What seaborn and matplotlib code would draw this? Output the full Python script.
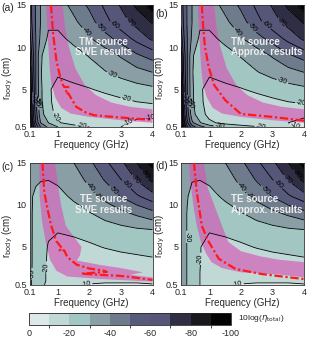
import matplotlib
matplotlib.use('Agg')
import matplotlib.pyplot as plt
import numpy as np
import pandas as pd
import seaborn as sns
from matplotlib.colors import ListedColormap, BoundaryNorm

# tabulated maps of 10log(eta_total), rows = r_body (cm), columns = frequency (GHz)
freq_ghz = [0.1, 0.2, 0.3, 0.45, 0.7, 1.0, 1.5, 2.0, 2.5, 3.0, 3.5, 4.0]
r_body_cm = [0.5, 1, 2, 3.5, 5, 7, 9, 11, 13, 15]

tm_swe_map = [
    [-100, -85, -68, -50, -38, -30, -24, -20, -15, -10, -7, -5],
    [-99, -80, -60, -40, -30, -21, -16, -13.5, -12, -10.8, -9, -7],
    [-98, -75, -55, -34, -24, -17, -14, -12.5, -12, -11.5, -11.5, -11.5],
    [-97, -72, -51, -32, -22, -16, -14, -14.5, -16, -18, -20, -21.5],
    [-95, -70, -50, -32, -21, -17.5, -18, -19.5, -22, -24.5, -26.5, -28],
    [-90, -66, -50, -31, -22, -21, -23.5, -26.5, -29.5, -33, -36.5, -40],
    [-85, -64, -50, -31, -26, -25, -27, -30.5, -35, -41, -48.5, -54],
    [-76, -60, -50, -38, -28, -28, -32, -39, -46, -54, -63, -72],
    [-68, -57, -49, -40, -32, -32, -38, -46, -57, -66, -74, -81],
    [-66, -56, -49, -40, -34, -35, -43, -52, -62, -71, -82, -96],
]

tm_approx_map = [
    [-100, -88, -72, -55, -44, -36, -28, -24, -21, -17, -12, -8.5],
    [-99, -82, -62, -42, -31, -22, -17, -14.5, -13, -11.5, -10, -8],
    [-98, -75, -55, -34, -24, -17, -14, -12.5, -12, -11.5, -11.5, -11.5],
    [-97, -72, -51, -32, -22, -16, -14, -14.5, -16, -18, -20, -21.5],
    [-95, -70, -50, -32, -21, -17.5, -18, -19.5, -22, -24.5, -26.5, -28],
    [-90, -66, -50, -31, -22, -21, -23.5, -26.5, -29.5, -33, -36.5, -40],
    [-85, -64, -50, -31, -26, -25, -27, -30.5, -35, -41, -48.5, -54],
    [-76, -60, -50, -38, -28, -28, -32, -39, -46, -54, -63, -72],
    [-68, -57, -49, -40, -32, -32, -38, -46, -57, -66, -74, -81],
    [-66, -56, -49, -40, -34, -35, -43, -52, -62, -71, -82, -96],
]

te_swe_map = [
    [-32, -29, -25, -21.5, -18.5, -15, -11.5, -9.5, -9, -9, -9, -9.5],
    [-32, -29, -25.5, -22, -19, -15.5, -12.5, -11.5, -11, -11, -11, -11.5],
    [-32, -29.5, -26, -22, -19, -16, -13.5, -12.5, -12.5, -13, -13.5, -14],
    [-32.5, -29.5, -26, -21.5, -19.5, -16.5, -14.5, -14.5, -15.5, -17, -18, -19],
    [-32.5, -29.5, -26.5, -23, -19.5, -17.5, -17, -18.5, -20.5, -22, -23, -24],
    [-33, -29.5, -27, -23.5, -21, -20.5, -22, -24, -25.5, -27, -28.5, -29.5],
    [-33, -29.5, -27, -24.5, -23.5, -24, -26.5, -29.5, -33.5, -37.5, -42, -47],
    [-34, -30, -28, -27, -26.8, -27.5, -31.5, -37, -43, -50.5, -58.5, -66],
    [-36, -33, -31.5, -30.5, -30.2, -31.5, -35.5, -42.5, -51, -60, -71, -83],
    [-37, -35, -33.5, -32.5, -32.5, -34.5, -40, -48, -58, -68, -80, -94],
]

te_approx_map = [
    [-35, -32.5, -29.5, -25, -20, -15.5, -11.5, -9.5, -9, -9, -9, -9.5],
    [-34.5, -32.5, -29.5, -25, -20, -16, -12.5, -11.5, -11, -11, -11, -11.5],
    [-34.5, -32.5, -29.5, -24.5, -20, -16.5, -13.5, -12.5, -12.5, -13, -13.5, -14],
    [-34.5, -32.5, -29.5, -24.5, -20.3, -17, -14.5, -14.5, -15.5, -17, -18, -19],
    [-34.5, -32.5, -29.5, -24.5, -20.3, -17.5, -17, -18.5, -20.5, -22, -23, -24],
    [-34.5, -32.5, -29.5, -25, -21, -20.5, -22, -24, -25.5, -27, -28.5, -29.5],
    [-34.5, -32.5, -29.5, -25.5, -23.5, -24, -26.5, -29.5, -33.5, -37.5, -42, -47],
    [-35, -33, -30.5, -27.5, -26.8, -27.5, -31.5, -37, -43, -50.5, -58.5, -66],
    [-36, -34, -32.5, -30.5, -30.2, -31.5, -35.5, -42.5, -51, -60, -71, -83],
    [-37, -35, -33.5, -32.5, -32.5, -34.5, -40, -48, -58, -68, -80, -94],
]

# magenta bands (f, r) : outer edge and inner edge
tm_band_outer = [(1.15, 15), (1.22, 12.5), (1.35, 10), (1.55, 7.5), (1.85, 5.5), (2.2, 4.3),
                 (2.7, 3.4), (3.3, 2.9), (4.0, 2.6)]
tm_band_inner = [(0.63, 15), (0.66, 12.5), (0.7, 10), (0.74, 7.5), (0.8, 5.5), (0.92, 4.0),
                 (1.1, 2.8), (1.4, 2.1), (2.0, 1.7), (3.0, 1.3), (4.0, 1.0)]
te_swe_band_outer = [(0.9, 15), (1.0, 12.5), (1.1, 10), (1.25, 7.5), (1.55, 6.0), (1.75, 5.0),
                     (1.7, 4.0), (1.6, 3.4), (2.3, 2.9), (3.0, 2.5), (3.7, 2.0), (3.3, 1.7),
                     (4.0, 1.4), (4.0, 0.9)]
te_swe_band_inner = [(0.41, 15), (0.42, 11), (0.5, 8), (0.62, 5.5), (0.75, 3.5), (0.95, 2.2),
                     (1.3, 1.5), (2.4, 1.2), (4.0, 0.9)]
te_band_outer = [(0.82, 15), (0.95, 12), (1.2, 9.5), (1.4, 7.5), (1.6, 5.6), (2.0, 4.5),
                 (2.6, 3.9), (3.2, 3.5), (4.0, 3.2)]
te_band_inner = [(0.35, 15), (0.42, 12), (0.51, 9.5), (0.6, 7.5), (0.73, 5.6), (0.9, 4.2),
                 (1.07, 3.2), (1.4, 2.5), (2.0, 2.0), (3.2, 1.75), (4.0, 1.4)]

# red optimum paths (f, r)
tm_swe_path = [(0.78, 15), (0.85, 11.5), (0.95, 8.5), (1.05, 6.8), (1.15, 5.6), (1.2, 5.25),
               (1.33, 5.25), (1.23, 4.5), (1.33, 4.5), (1.58, 2.9), (1.9, 2.2), (2.15, 1.9),
               (2.6, 1.75), (3.1, 1.6), (3.6, 1.45), (4.0, 1.35)]
tm_approx_path = [(0.76, 15), (0.8, 12.5), (0.86, 10), (0.98, 7.6), (1.15, 5.5), (1.5, 3.7),
                  (2.0, 2.05), (3.0, 1.7), (4.0, 1.25)]
te_swe_path = [(0.51, 15), (0.57, 11.5), (0.67, 9.5), (0.79, 7.5), (0.95, 5.7), (1.14, 4.8),
               (1.05, 4.6), (1.2, 4.6), (1.3, 3.8), (1.6, 2.9), (2.0, 2.45), (2.45, 2.2),
               (2.55, 2.05), (1.75, 1.85), (2.3, 1.7), (2.9, 1.6), (3.3, 1.45), (3.6, 1.3),
               (4.0, 1.1)]
te_approx_path = [(0.51, 15), (0.6, 11.5), (0.76, 7.5), (0.98, 5.6), (1.3, 3.6), (1.83, 2.4),
                  (2.65, 1.8), (4.0, 1.2)]

# where the contour labels sit
tm_swe_label_spots = [(3.8, 14.2), (3.3, 13.0), (2.8, 12.6), (2.36, 12.3), (1.9, 11.8),
                      (2.72, 6.7), (3.18, 3.9), (3.95, 1.6), (3.3, 0.55), (1.75, 0.6),
                      (0.89, 1.7), (0.2, 3.9), (0.3, 3.6), (0.4, 3.3)]
tm_approx_label_spots = [(3.8, 14.2), (3.3, 13.0), (2.8, 12.6), (2.36, 12.3), (1.9, 11.8),
                         (3.26, 5.25), (3.9, 2.9), (3.72, 0.7), (2.8, 0.7), (1.33, 0.7),
                         (0.2, 3.9), (0.3, 3.6), (0.4, 3.3)]
te_swe_label_spots = [(3.8, 13.7), (3.5, 13.1), (3.2, 12.5), (2.76, 11.7), (2.4, 11.5),
                      (1.9, 11.7), (0.2, 1.8), (0.5, 2.6), (1.9, 0.55)]
te_approx_label_spots = [(3.8, 13.7), (3.5, 13.1), (3.2, 12.5), (2.76, 11.7), (2.4, 11.5),
                         (1.9, 11.7), (0.28, 6.2), (0.76, 3.6), (1.9, 0.55)]

level_colors = ['#030303', '#18181f', '#2f2e44', '#555678', '#585a7b',
                '#6e7b8d', '#8a9ea6', '#a2c6c2', '#c0d9d6', '#dde8e8']
levels = np.arange(-100, 1, 10)

sns.set_style('white')
plt.rcParams['font.family'] = ['Liberation Sans', 'DejaVu Sans']
plt.rcParams['axes.unicode_minus'] = False
plt.rcParams['contour.negative_linestyle'] = 'solid'

cmap = ListedColormap(sns.color_palette(level_colors))
norm = BoundaryNorm(levels, cmap.N)

W, H = 309, 340
fig = plt.figure(figsize=(W / 100, H / 100), dpi=100)


def px_axes(x0, y0, x1, y1):
    return fig.add_axes([x0 / W, 1 - y1 / H, (x1 - x0) / W, (y1 - y0) / H])


def draw_panel(ax, table, outer, inner, path, note, spots, note_x, note_ha):
    F, R = np.meshgrid(freq_ghz, r_body_cm)
    Z = np.array(table, dtype=float)
    cf = ax.contourf(F, R, Z, levels=levels, cmap=cmap, norm=norm, zorder=1)
    bf = [p[0] for p in outer] + [p[0] for p in inner[::-1]]
    br = [p[1] for p in outer] + [p[1] for p in inner[::-1]]
    ax.fill(bf, br, color='#d455b5', alpha=0.65, lw=0, zorder=2)
    cs = ax.contour(F, R, Z, levels=levels[1:-1], colors='k', linewidths=0.6,
                    linestyles='solid', zorder=3)
    ax.clabel(cs, fmt='%d', fontsize=5, inline=True, inline_spacing=1, manual=spots)
    df = pd.DataFrame(path, columns=['f', 'r'])
    sns.lineplot(data=df, x='f', y='r', sort=False, estimator=None, ax=ax, color='#ff1a1a',
                 lw=1.6, linestyle=(0, (3.8, 1.2, 1, 1.2)), zorder=4)
    ax.set_xlim(0.1, 4)
    ax.set_ylim(0.5, 15)
    ax.set_xticks([0.1, 1, 2, 3, 4])
    ax.set_xticklabels(['0.1', '1', '2', '3', '4'])
    ax.set_yticks([0.5, 5, 10, 15])
    ax.set_yticklabels(['0.5', '5', '10', '15'])
    ax.tick_params(labelsize=6.5, length=2, direction='in', pad=2)
    ax.set_xlabel('Frequency (GHz)', fontsize=7, labelpad=1)
    ax.set_ylabel(r'r$_{\mathrm{body}}$ (cm)', fontsize=7)
    ax.yaxis.set_label_coords(-0.115, 0.4)
    for s in ax.spines.values():
        s.set_linewidth(0.6)
        s.set_color('#333333')
    ax.text(note_x, 0.655, note, transform=ax.transAxes, ha=note_ha, va='center',
            multialignment=note_ha, fontsize=7, color='#eeeeee', fontweight='bold',
            linespacing=1.1, zorder=5)
    return cf


ax_a = px_axes(29.5, 5, 152.5, 127)
ax_b = px_axes(181, 5, 304, 127)
ax_c = px_axes(29.5, 162.5, 152.5, 285)
ax_d = px_axes(181, 162.5, 304, 285)

cf = draw_panel(ax_a, tm_swe_map, tm_band_outer, tm_band_inner, tm_swe_path,
                'TM source\nSWE results', tm_swe_label_spots, 0.605, 'center')
draw_panel(ax_b, tm_approx_map, tm_band_outer, tm_band_inner, tm_approx_path,
           'TM source\nApprox. results', tm_approx_label_spots, 0.405, 'left')
draw_panel(ax_c, te_swe_map, te_swe_band_outer, te_swe_band_inner, te_swe_path,
           'TE source\nSWE results', te_swe_label_spots, 0.605, 'center')
draw_panel(ax_d, te_approx_map, te_band_outer, te_band_inner, te_approx_path,
           'TE source\nApprox. results', te_approx_label_spots, 0.405, 'left')

for tag, (x, y) in zip(['(a)', '(b)', '(c)', '(d)'], [(1, 8), (155, 14), (1, 167), (155, 166)]):
    fig.text(x / W, 1 - y / H, tag, fontsize=7.5, ha='left', va='center')

cax = px_axes(29, 313, 231, 325)
cb = fig.colorbar(cf, cax=cax, orientation='horizontal', ticks=[0, -20, -40, -60, -80, -100])
cb.set_ticklabels(['0', '-20', '-40', '-60', '-80', '-100'])
cax.invert_xaxis()
cax.tick_params(labelsize=6.5, length=0, pad=3)
cb.outline.set_linewidth(0.6)
fig.text(238 / W, 1 - 319 / H, r'10log($\eta_{\mathrm{total}}$)', fontsize=6, va='center')

fig.savefig('out.png', dpi=100)
